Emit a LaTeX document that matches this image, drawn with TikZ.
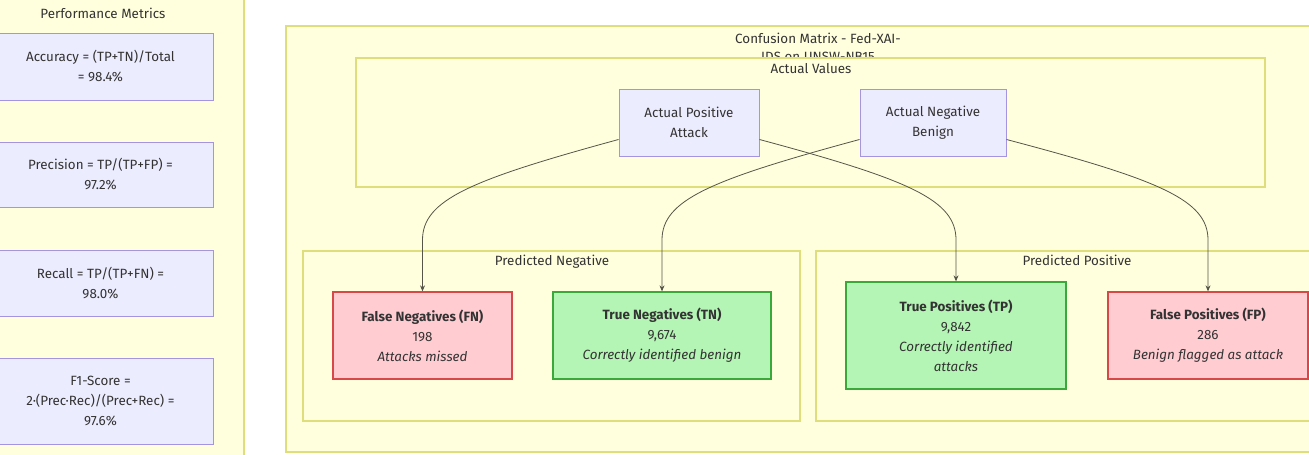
\documentclass[tikz,border=0pt]{standalone}
\usepackage{fontspec}
\setmainfont{Fira Sans}
\usetikzlibrary{arrows.meta}
\definecolor{panelfill}{HTML}{FFFFDE}
\definecolor{panelline}{HTML}{DEDE7C}
\definecolor{boxfill}{HTML}{ECECFF}
\definecolor{boxline}{HTML}{A594E0}
\definecolor{badfill}{HTML}{FFCCD2}
\definecolor{badline}{HTML}{D84848}
\definecolor{goodfill}{HTML}{B4F4B4}
\definecolor{goodline}{HTML}{3AA83A}
\definecolor{ink}{HTML}{333333}
\definecolor{wire}{HTML}{555548}
\begin{document}
\begin{tikzpicture}[x=1pt,y=-1pt,
  panel/.style={draw=panelline,fill=panelfill,line width=1.3pt},
  grouplabel/.style={text=ink,font=\fontsize{13.4}{18}\selectfont,anchor=base,inner sep=0pt},
  metric/.style={draw=boxline,fill=boxfill,line width=1pt,text=ink,align=center,
    font=\fontsize{13.4}{20}\selectfont,inner sep=0pt},
  actual/.style={metric},
  cell/.style={line width=1.3pt,text=ink,align=center,font=\fontsize{13.4}{20}\selectfont,inner sep=0pt,
    minimum height=87pt},
  bad/.style={cell,draw=badline,fill=badfill},
  good/.style={cell,draw=goodline,fill=goodfill},
  link/.style={draw=wire,line width=0.8pt,-{Stealth[length=6pt,width=5pt]}}]
\useasboundingbox (0,0) rectangle (1309,455);
\clip (0,0) rectangle (1309,455);

% metrics panel
\draw[panel] (-20,-20) rectangle (244,480);
\node[grouplabel] (pmtitle) at (103,18) {Performance Metrics};
\node[metric,minimum width=225pt,minimum height=67pt] (acc) at (100.5,66.5)
  {Accuracy = (TP+TN)/Total\\= 98.4\%};
\node[metric,minimum width=225pt,minimum height=65pt] (prec) at (100.5,174.5)
  {Precision = TP/(TP+FP) =\\97.2\%};
\node[metric,minimum width=225pt,minimum height=66pt] (rec) at (100.5,283)
  {Recall = TP/(TP+FN) =\\98.0\%};
\node[metric,minimum width=225pt,minimum height=86pt] (f1) at (100.5,401)
  {F1-Score =\\2·(Prec·Rec)/(Prec+Rec) =\\97.6\%};

% confusion matrix panel
\draw[panel] (286,26) rectangle (1330,452);
\node[grouplabel,align=center,anchor=center,font=\fontsize{13.4}{18}\selectfont] (cmtitle) at (818,47)
  {Confusion Matrix - Fed-XAI-\\IDS on UNSW-NB15};

% actual values
\draw[panel] (356,58) rectangle (1265,187);
\node[grouplabel] (avtitle) at (811,73) {Actual Values};
\node[actual,minimum width=140pt,minimum height=67pt] (ap) at (689,122.5) {Actual Positive\\Attack};
\node[actual,minimum width=146pt,minimum height=67pt] (an) at (933,122.5) {Actual Negative\\Benign};

% predicted negative
\draw[panel] (303,251) rectangle (800,421);
\node[grouplabel] (pntitle) at (552,265) {Predicted Negative};
\node[bad,minimum width=179pt] (fn) at (422.5,335.5)
  {\textbf{False Negatives (FN)}\\198\\\textit{Attacks missed}};
\node[good,minimum width=218pt] (tn) at (662,335.5)
  {\textbf{True Negatives (TN)}\\9,674\\\textit{Correctly identified benign}};

% predicted positive
\draw[panel] (816,251) rectangle (1330,421);
\node[grouplabel] (pptitle) at (1077,265) {Predicted Positive};
\node[good,minimum width=220pt,minimum height=107pt] (tp) at (956,335.5)
  {\textbf{True Positives (TP)}\\9,842\\\textit{Correctly identified}\\\textit{attacks}};
\node[bad,minimum width=200pt] (fp) at (1208,335.5)
  {\textbf{False Positives (FP)}\\286\\\textit{Benign flagged as attack}};

% connectors
\draw[link] ([yshift=-17pt]ap.west) .. controls (470,180) and (422.5,200) .. (422.5,240) -- (fn.north);
\draw[link] ([yshift=-17pt]ap.east) .. controls (910,180) and (956,200) .. (956,240) -- (tp.north);
\draw[link] ([yshift=-17pt]an.west) .. controls (710,180) and (662,200) .. (662,240) -- (tn.north);
\draw[link] ([yshift=-17pt]an.east) .. controls (1160,180) and (1208,200) .. (1208,240) -- (fp.north);
\end{tikzpicture}
\end{document}
